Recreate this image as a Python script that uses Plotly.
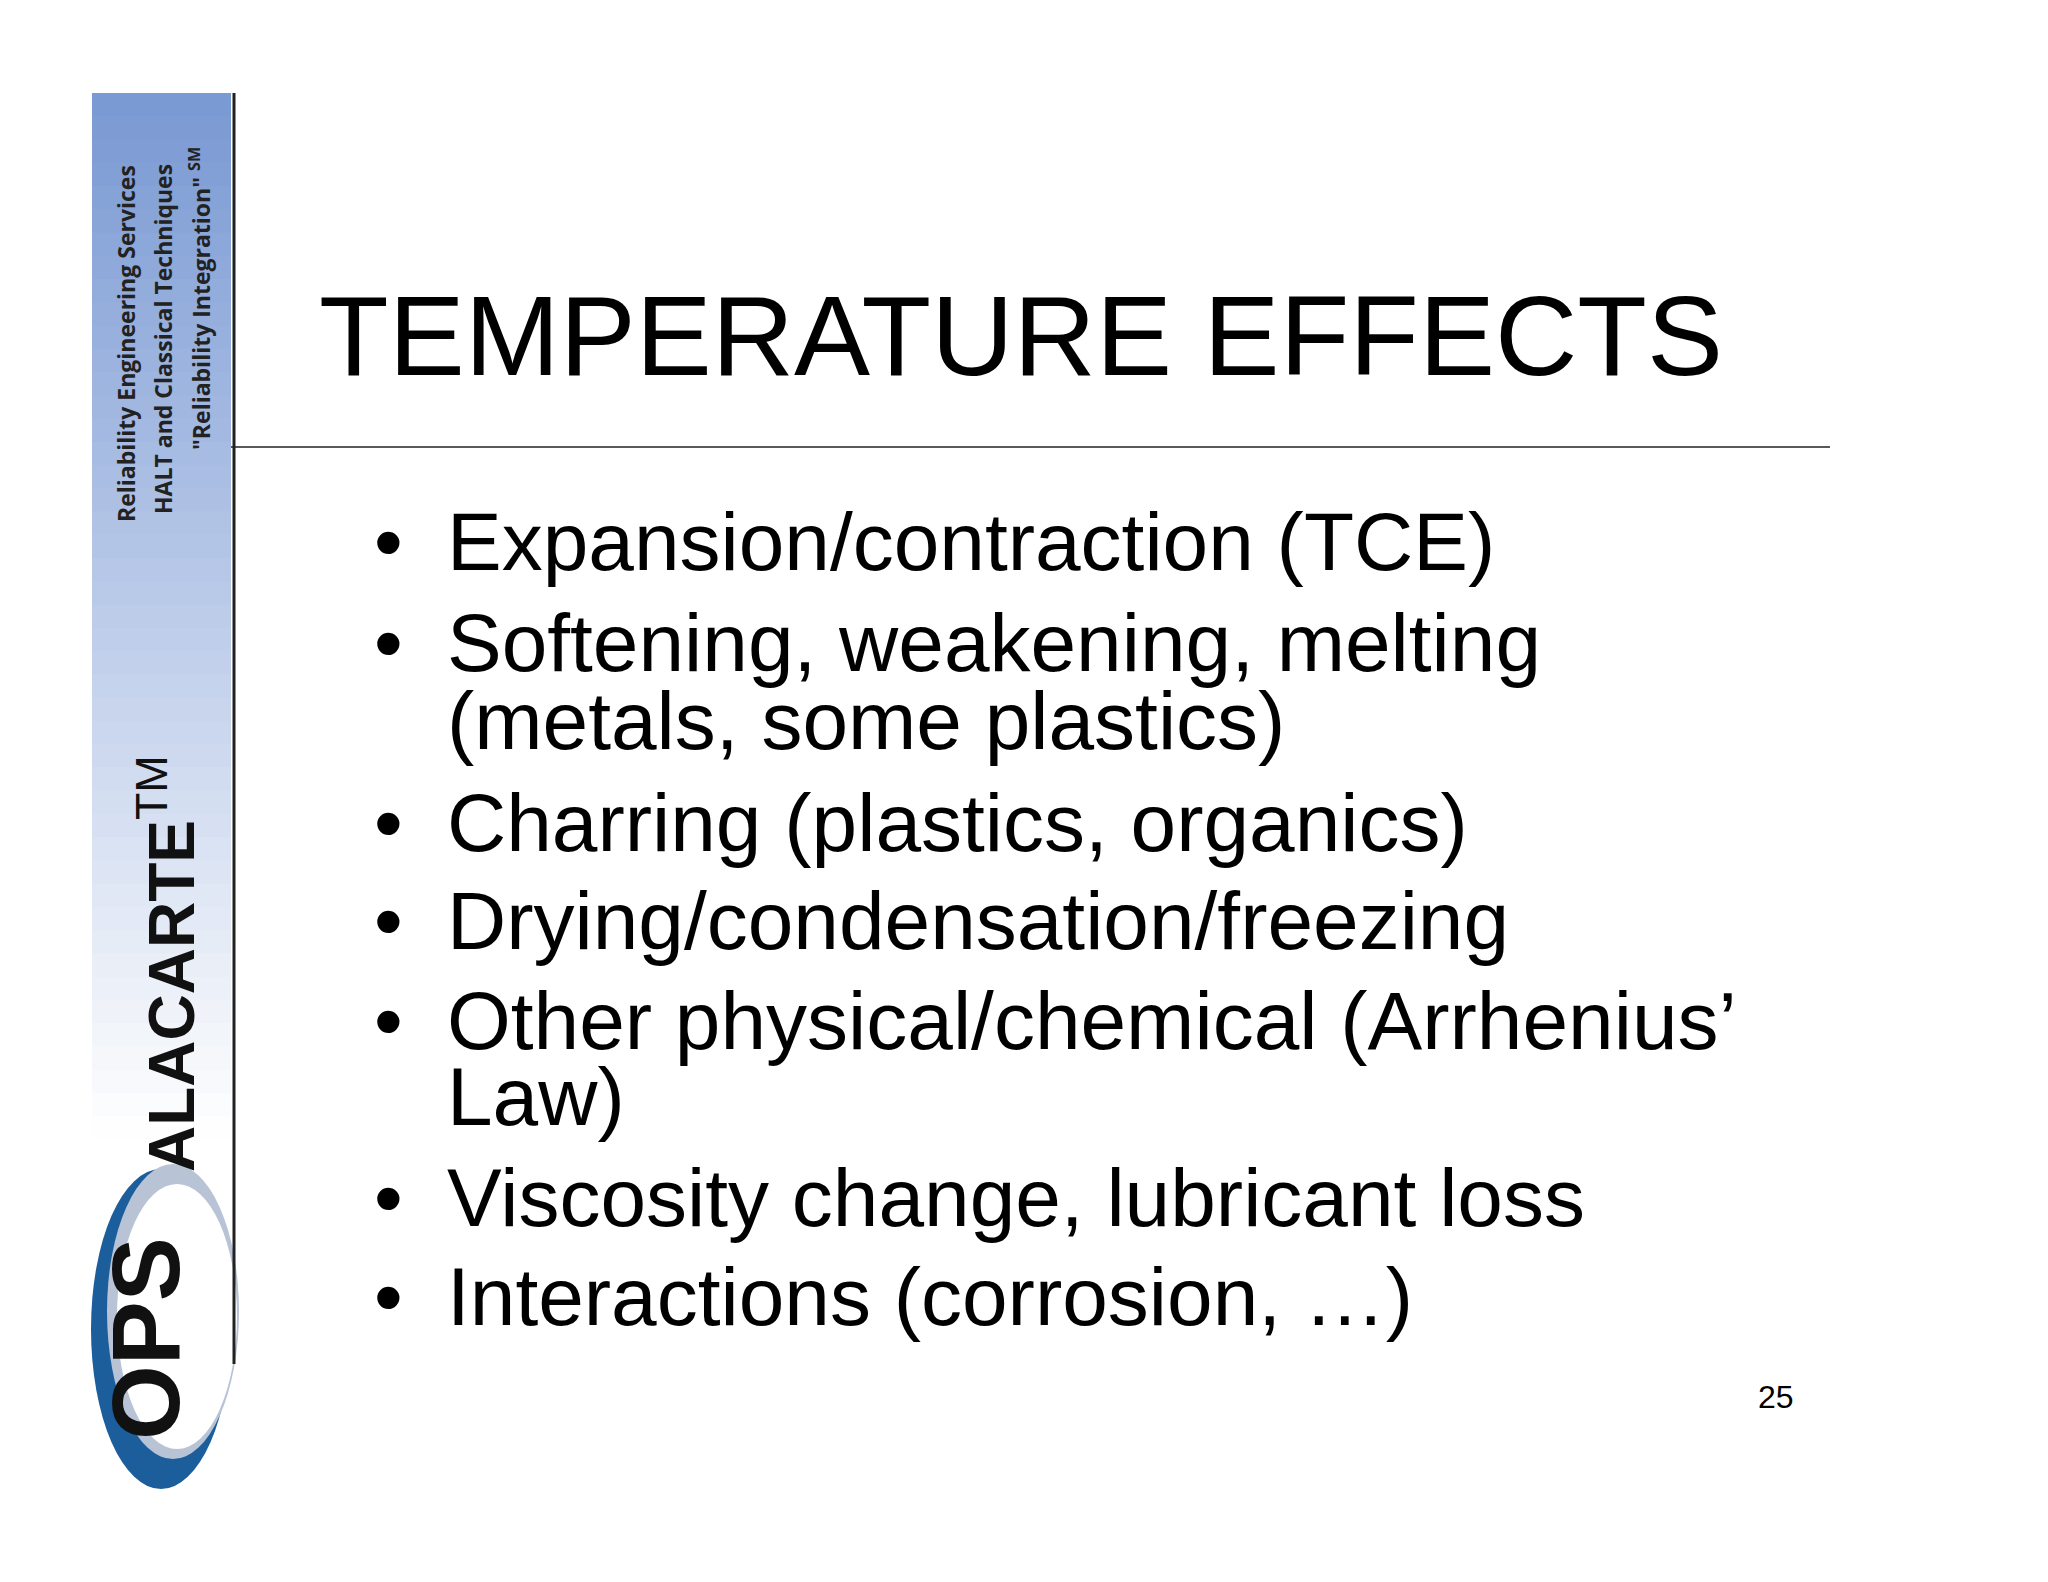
import plotly.graph_objects as go

title = "TEMPERATURE EFFECTS"
bullets = [
    ["Expansion/contraction (TCE)"],
    ["Softening, weakening, melting", "(metals, some plastics)"],
    ["Charring (plastics, organics)"],
    ["Drying/condensation/freezing"],
    ["Other physical/chemical (Arrhenius’", "Law)"],
    ["Viscosity change, lubricant loss"],
    ["Interactions (corrosion, …)"],
]
side_lines = ["Reliability Engineering Services",
              "HALT and Classical Techniques",
              "\"Reliability Integration\" <sup>SM</sup>"]
page_no = "25"

W, H = 2048, 1582
D = 9  # page body margin offset
fig = go.Figure()
fig.add_trace(go.Scatter(x=[0, W], y=[0, H], mode="markers", marker=dict(opacity=0), hoverinfo="skip"))

# sidebar gradient
n = 60
top, bot = 94 - D, 1489 - D
for i in range(n):
    t = i / (n - 1)
    f = min(1.0, t / 0.75)
    r = int(122 + (255 - 122) * f)
    g = int(154 + (255 - 154) * f)
    b = int(212 + (255 - 212) * f)
    y0 = top + (bot - top) * i / n
    y1 = top + (bot - top) * (i + 1) / n + 1
    fig.add_shape(type="rect", x0=93 - D, x1=232 - D, y0=y0, y1=y1, line_width=0,
                  fillcolor=f"rgb({r},{g},{b})", layer="below")

# logo swoosh
fig.add_shape(type="circle", x0=92 - D, x1=232 - D, y0=1170 - D, y1=1490 - D, line_width=0, fillcolor="#1c5d9c")
fig.add_shape(type="circle", x0=108 - D, x1=240 - D, y0=1165 - D, y1=1460 - D, line_width=0, fillcolor="#b9c3d6")
fig.add_shape(type="circle", x0=118 - D, x1=238 - D, y0=1185 - D, y1=1450 - D, line_width=0, fillcolor="#ffffff")

fig.add_shape(type="line", x0=235 - D, x1=235 - D, y0=94 - D, y1=1365 - D, line=dict(color="#222", width=3))
fig.add_shape(type="line", x0=232 - D, x1=1831 - D, y0=448 - D, y1=448 - D, line=dict(color="#222", width=1.5))

ann = []
for i, s in enumerate(side_lines):
    ann.append(dict(x=[127, 164, 201][i] - D, y=[345, 340, 300][i] - D, text="<b>" + s + "</b>", textangle=-90,
                    showarrow=False, font=dict(family="Open Sans", size=23, color="#222"),
                    xanchor="center", yanchor="middle"))
ann.append(dict(x=168 - D, y=965 - D, text="<b>ALACARTE</b><sup>TM</sup>", textangle=-90, showarrow=False,
                font=dict(family="Liberation Sans", size=64, color="#111"), xanchor="center", yanchor="middle"))
ann.append(dict(x=146 - D, y=1340 - D, text="<b>OPS</b>", textangle=-90, showarrow=False,
                font=dict(family="Liberation Sans", size=96, color="#111"), xanchor="center", yanchor="middle"))

ann.append(dict(x=318 - D, y=336 - D, text=title, showarrow=False, xanchor="left", yanchor="middle",
                font=dict(family="Liberation Sans", size=114, color="#000")))

ys = [542, 643, 721, 823, 921, 1021, 1097, 1198, 1297]
k = 0
for item in bullets:
    ann.append(dict(x=389 - D, y=ys[k] - D, text="•", showarrow=False, xanchor="center", yanchor="middle",
                    font=dict(family="Liberation Sans", size=82, color="#000")))
    for line in item:
        ann.append(dict(x=446 - D, y=ys[k] - D, text=line, showarrow=False, xanchor="left", yanchor="middle",
                        font=dict(family="Liberation Sans", size=82, color="#000")))
        k += 1

ann.append(dict(x=1777 - D, y=1398 - D, text=page_no, showarrow=False, xanchor="center", yanchor="middle",
                font=dict(family="Liberation Sans", size=32, color="#000")))

fig.update_layout(
    width=W, height=H, margin=dict(l=0, r=0, t=0, b=0),
    paper_bgcolor="white", plot_bgcolor="white", showlegend=False,
    xaxis=dict(range=[0, W], visible=False, fixedrange=True),
    yaxis=dict(range=[H, 0], visible=False, fixedrange=True),
    annotations=ann,
)
fig.write_html("out.html")
